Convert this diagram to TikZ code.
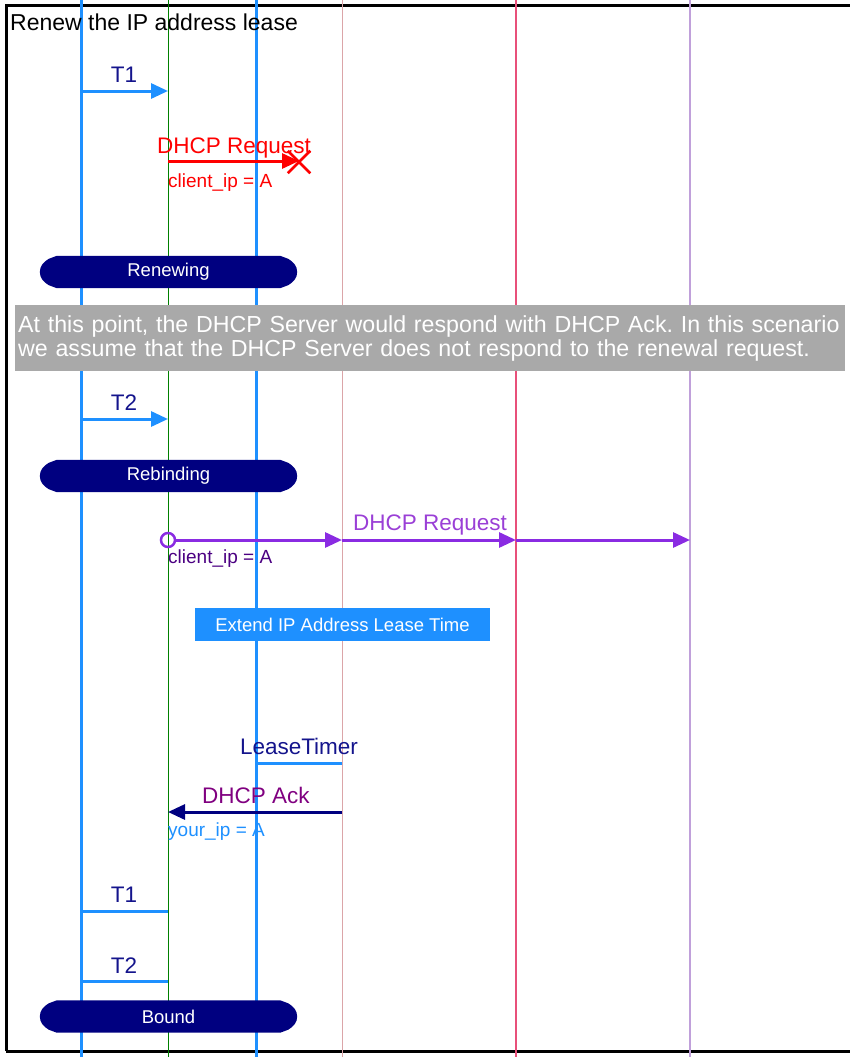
\documentclass[tikz,border=0pt]{standalone}
\usepackage{fontspec}
\setmainfont{Liberation Sans}
\frenchspacing
\usetikzlibrary{arrows.meta,shapes.misc}
\definecolor{dblue}{HTML}{1E90FF}
\definecolor{navyc}{HTML}{000080}
\definecolor{tnavy}{HTML}{14148C}
\definecolor{gline}{HTML}{008000}
\definecolor{rline}{HTML}{DBA5A8}
\definecolor{cline}{HTML}{E8507A}
\definecolor{vline}{HTML}{C0A0DA}
\definecolor{pmsgc}{HTML}{8A2BE2}
\definecolor{ptext}{HTML}{9A3FD6}
\definecolor{indig}{HTML}{4B0082}
\definecolor{ackc}{HTML}{800080}
\definecolor{noteg}{HTML}{A9A9A9}
\tikzset{
  tip/.style={-{Triangle[length=17pt,width=15pt]}},
  msg/.style={line width=3pt, tip},
  lbl/.style={font=\fontsize{22.5}{27}\selectfont, inner sep=0pt, anchor=base},
  small/.style={font=\fontsize{19}{23}\selectfont, inner sep=0pt, anchor=base west},
  bannerbox/.style={minimum width=257pt, minimum height=32pt, inner sep=0pt},
  bannertext/.style={text=white, font=\fontsize{18.5}{22}\selectfont, inner sep=0pt},
}
\newcommand\bannerfill[1]{%
  \fill[navyc] ([xshift=17pt]#1.north west) -- ([xshift=-17pt]#1.north east)
    -- ([xshift=-9pt,yshift=-3pt]#1.north east)
    .. controls ([xshift=-4pt,yshift=-6pt]#1.north east) and ([yshift=-10pt]#1.north east) .. (#1.east)
    .. controls ([yshift=10pt]#1.south east) and ([xshift=-4pt,yshift=6pt]#1.south east) .. ([xshift=-9pt,yshift=3pt]#1.south east)
    -- ([xshift=-17pt]#1.south east) -- ([xshift=17pt]#1.south west)
    -- ([xshift=9pt,yshift=3pt]#1.south west)
    .. controls ([xshift=4pt,yshift=6pt]#1.south west) and ([yshift=10pt]#1.south west) .. (#1.west)
    .. controls ([yshift=-10pt]#1.north west) and ([xshift=4pt,yshift=-6pt]#1.north west) .. ([xshift=9pt,yshift=-3pt]#1.north west) -- cycle;}
\begin{document}
\begin{tikzpicture}[x=1pt,y=-1pt]
\useasboundingbox (0,0) rectangle (849,1057);
% frame
\draw[line width=3pt] (6,1051) -- (6,6) -- (870,6);
\draw[line width=3pt] (6,1051) -- (870,1051);
% lifelines
\coordinate (a0) at (81,-5);  \coordinate (a1) at (81,1065);
\coordinate (b0) at (168,-5); \coordinate (b1) at (168,1065);
\coordinate (c0) at (256,-5); \coordinate (c1) at (256,1065);
\coordinate (d0) at (342,-5); \coordinate (d1) at (342,1065);
\coordinate (e0) at (516,-5); \coordinate (e1) at (516,1065);
\coordinate (f0) at (690,-5); \coordinate (f1) at (690,1065);
\draw[dblue, line width=3pt] (a0) -- (a1);
\draw[gline, line width=1pt] (b0) -- (b1);
\draw[dblue, line width=3pt] (c0) -- (c1);
\draw[rline, line width=1pt] (d0) -- (d1);
\draw[cline, line width=1.5pt] (e0) -- (e1);
\draw[vline, line width=1.5pt] (f0) -- (f1);
% title
\node[font=\fontsize{23}{27}\selectfont, inner sep=0pt, anchor=base west] (title) at (10,31) {Renew the IP address lease};
% T1
\coordinate (t1a) at (81,91); \coordinate (t1b) at (168,91);
\draw[msg, dblue] (t1a) -- (t1b);
\node[lbl, text=tnavy] (t1l) at (124,82) {T1};
% red request
\coordinate (r1a) at (168,161); \coordinate (r1b) at (299,161);
\draw[red, msg] (r1a) -- (r1b);
\node[cross out, draw=red, line width=2.5pt, minimum size=20pt, inner sep=0pt] (lost) at (299,162) {};
\node[lbl, text=red] (r1l) at (234,153) {DHCP Request};
\node[small, text=red] (r1s) at (168,187) {client\_ip = A};
% Renewing
\node[bannerbox] (renew) at (168.5,272) {};
\bannerfill{renew}
\node[bannertext] (renewt) at (renew) {Renewing};
% note
\node[fill=noteg, text=white, anchor=north west, minimum width=830pt, minimum height=66pt,
  inner xsep=3pt, inner ysep=0pt, text width=824pt, align=left,
  font=\fontsize{23.2}{24}\selectfont] (note) at (15,305)
  {At this point, the DHCP Server would respond with DHCP Ack. In this scenario\\we assume that the DHCP Server does not respond to the renewal request.};
% T2
\coordinate (t2a) at (81,419); \coordinate (t2b) at (168,419);
\draw[msg, dblue] (t2a) -- (t2b);
\node[lbl, text=tnavy] (t2l) at (124,410) {T2};
% Rebinding
\node[bannerbox] (rebind) at (168.5,476) {};
\bannerfill{rebind}
\node[bannertext] (rebindt) at (rebind) {Rebinding};
% purple request
\node[circle, draw=pmsgc, line width=2.5pt, minimum size=14pt, inner sep=0pt] (circ) at (168,540) {};
\coordinate (p1) at (342,540); \coordinate (p2) at (516,540); \coordinate (p3) at (690,540);
\draw[msg, pmsgc] (circ.east) -- (p1);
\draw[msg, pmsgc] (p1) -- (p2);
\draw[msg, pmsgc] (p2) -- (p3);
\node[lbl, text=ptext] (p1l) at (430,530) {DHCP Request};
\node[small, text=indig] (p1s) at (168,563) {client\_ip = A};
% extend
\node[fill=dblue, text=white, minimum width=295pt, minimum height=33pt, inner sep=0pt,
  font=\fontsize{18.5}{22}\selectfont] (ext) at (342.5,624.5) {Extend IP Address Lease Time};
% LeaseTimer
\coordinate (lt1) at (256,763); \coordinate (lt2) at (342,763);
\draw[dblue, line width=3pt] (lt1) -- (lt2);
\node[lbl, text=tnavy] (ltl) at (299,754) {LeaseTimer};
% DHCP Ack
\coordinate (ak1) at (342,812); \coordinate (ak2) at (168,812);
\draw[msg, navyc] (ak1) -- (ak2);
\node[lbl, text=ackc] (akl) at (256,803) {DHCP Ack};
\node[small, text=dblue] (aks) at (168,836) {your\_ip = A};
% bottom T1/T2
\coordinate (u1a) at (81,911); \coordinate (u1b) at (168,911);
\draw[dblue, line width=3pt] (u1a) -- (u1b);
\node[lbl, text=tnavy] (u1l) at (124,902) {T1};
\coordinate (u2a) at (81,981); \coordinate (u2b) at (168,981);
\draw[dblue, line width=3pt] (u2a) -- (u2b);
\node[lbl, text=tnavy] (u2l) at (124,973) {T2};
% Bound
\node[bannerbox] (bound) at (168.5,1016.5) {};
\bannerfill{bound}
\node[bannertext] (boundt) at (bound) {Bound};
\end{tikzpicture}
\end{document}
